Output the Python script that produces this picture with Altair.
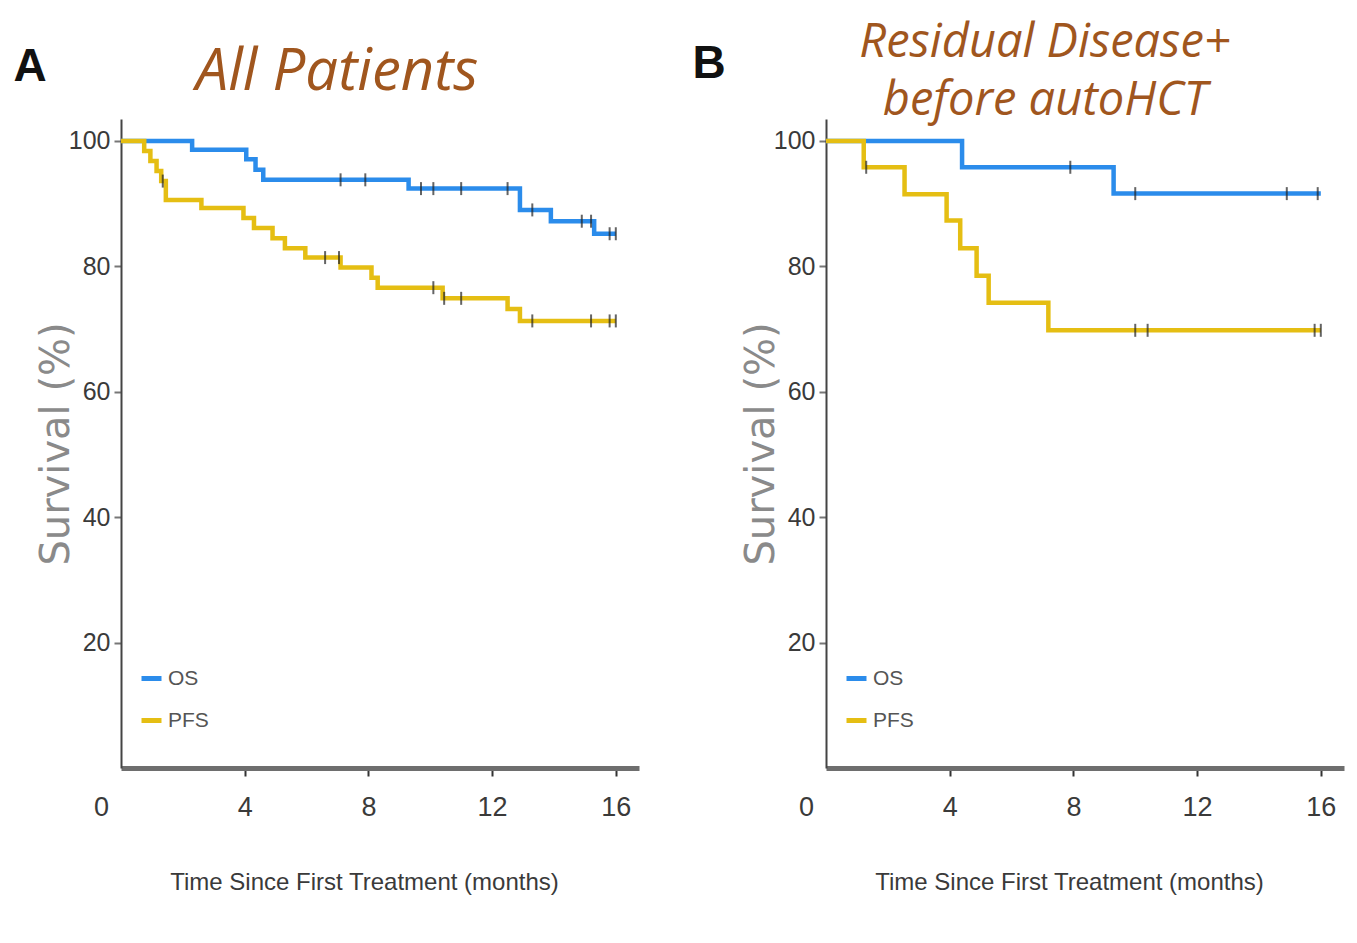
import altair as alt
import pandas as pd

# ---------------- data ----------------
SERIES = ["OS", "PFS"]
COLORS = ["#2B8CEB", "#E5BE13"]

# Panel A : All Patients
A_OS_TIME = [0, 2.3, 4.05, 4.35, 4.6, 9.3, 12.9, 13.9, 15.3, 16.0]
A_OS_SURV = [100, 98.6, 97.1, 95.4, 93.8, 92.4, 89.0, 87.2, 85.2, 85.2]
A_OS_CENSOR = [7.1, 7.9, 9.7, 10.1, 11.0, 12.5, 13.3, 14.9, 15.2, 15.8, 16.0]

A_PFS_TIME = [0, 0.75, 0.95, 1.15, 1.3, 1.45, 2.6, 3.96, 4.3, 4.9, 5.3, 5.96,
              7.1, 8.1, 8.3, 10.4, 12.5, 12.9, 16.0]
A_PFS_SURV = [100, 98.4, 96.8, 95.2, 93.6, 90.6, 89.3, 87.7, 86.1, 84.5, 82.9, 81.4,
              79.8, 78.2, 76.6, 74.9, 73.2, 71.3, 71.3]
A_PFS_CENSOR = [1.35, 6.6, 7.05, 10.1, 10.45, 11.0, 13.3, 15.2, 15.8, 16.0]

# Panel B : Residual Disease+ before autoHCT
B_OS_TIME = [0, 4.4, 9.3, 16.0]
B_OS_SURV = [100, 95.8, 91.6, 91.6]
B_OS_CENSOR = [7.9, 10.0, 14.9, 15.9]

B_PFS_TIME = [0, 1.22, 2.54, 3.9, 4.34, 4.87, 5.26, 7.19, 16.0]
B_PFS_SURV = [100, 95.8, 91.5, 87.3, 82.9, 78.5, 74.2, 69.8, 69.8]
B_PFS_CENSOR = [1.3, 10.0, 10.4, 15.8, 16.0]

X_TICKS = [0, 4, 8, 12, 16]
Y_TICKS = [20, 40, 60, 80, 100]
X_TITLE = "Time Since First Treatment (months)"
Y_TITLE = "Survival (%)"
TITLE_A = ["All Patients"]
TITLE_B = ["Residual Disease+", "before autoHCT"]

# ---------------- styling ----------------
COND = "Liberation Sans"
HAND = "Open Sans"
BROWN = "#A0561E"
W, H = 518, 649


def step_value(times, surv, t):
    v = surv[0]
    for ti, si in zip(times, surv):
        if ti <= t:
            v = si
    return v


def curve_frames(os_t, os_s, os_c, pfs_t, pfs_s, pfs_c):
    rows, cens = [], []
    for name, tt, ss, cc in (("OS", os_t, os_s, os_c), ("PFS", pfs_t, pfs_s, pfs_c)):
        for t, s in zip(tt, ss):
            rows.append({"time": t, "surv": s, "endpoint": name})
        for t in cc:
            cens.append({"time": t, "surv": step_value(tt, ss, t), "endpoint": name})
    return pd.DataFrame(rows), pd.DataFrame(cens)


def panel(os_t, os_s, os_c, pfs_t, pfs_s, pfs_c, letter, letter_pos, titles, title_pos, title_size):
    curves, cens = curve_frames(os_t, os_s, os_c, pfs_t, pfs_s, pfs_c)
    xaxis = alt.Axis(
        values=X_TICKS, title=X_TITLE, grid=False,
        domainColor="#6e6e6e", domainWidth=5,
        tickColor="#333", tickWidth=2, tickSize=8,
        tickOpacity={"expr": "datum.value === 0 ? 0 : 1"},
        labelFont=COND, labelFontSize=27, labelColor="#3a3a3a", labelPadding=18,
        labelOffset={"expr": "datum.value === 0 ? -20 : 0"},
        labelFlush=False, labelOverlap=False, labelBound=False,
        titleFont=COND, titleFontSize=24, titleFontWeight="normal", titleColor="#3a3a3a",
        titleX=243, titleY=114, titleBaseline="middle",
    )
    yaxis = alt.Axis(
        values=Y_TICKS, title=Y_TITLE, grid=False,
        domainColor="#444", domainWidth=2,
        tickColor="#777", tickWidth=2, tickSize=7,
        labelFont=COND, labelFontSize=25, labelColor="#3a3a3a", labelPadding=4,
        labelOverlap=False,
        titleFont="DejaVu Sans", titleFontSize=40, titleFontWeight="normal", titleColor="#8a8a8a",
        titleX=-53, titleBaseline="alphabetic",
    )
    x = alt.X("time:Q", scale=alt.Scale(domain=[0, 16.75], nice=False, zero=False), axis=xaxis)
    y = alt.Y("surv:Q", scale=alt.Scale(domain=[0, 103.5], nice=False), axis=yaxis)
    legend = alt.Legend(
        orient="none", legendX=18, legendY=547, title=None,
        symbolType="stroke", symbolSize=400, symbolStrokeWidth=5,
        labelFont=COND, labelFontSize=21, labelColor="#555",
        rowPadding=19, padding=0, labelOffset=4,
    )
    color = alt.Color("endpoint:N", scale=alt.Scale(domain=SERIES, range=COLORS), legend=legend)

    lines = alt.Chart(curves).mark_line(interpolate="step-after", strokeWidth=4.5).encode(
        x=x, y=y, color=color)
    ticks = alt.Chart(cens).mark_tick(orient="vertical", size=13, thickness=2, color="#222").encode(
        x="time:Q", y="surv:Q")

    layers = [lines, ticks]
    layers.append(
        alt.Chart(pd.DataFrame({"label": [letter]})).mark_text(
            font=COND, fontSize=46, fontWeight="bold", color="#111", baseline="middle", align="center"
        ).encode(x=alt.value(letter_pos[0]), y=alt.value(letter_pos[1]), text="label:N")
    )
    # title block (one text item, lines separated by a line break)
    layers.append(
        alt.Chart(pd.DataFrame({"label": ["\n".join(titles)]})).mark_text(
            font=HAND, fontSize=title_size, fontStyle="italic", color=BROWN,
            baseline="alphabetic", align="center", lineBreak="\n", lineHeight=58
        ).encode(x=alt.value(title_pos[0]), y=alt.value(title_pos[1]), text="label:N")
    )
    return alt.layer(*layers).properties(width=W, height=H)


pA = panel(A_OS_TIME, A_OS_SURV, A_OS_CENSOR, A_PFS_TIME, A_PFS_SURV, A_PFS_CENSOR,
           "A", (-91, -52), TITLE_A, (216, -29), 58)
pB = panel(B_OS_TIME, B_OS_SURV, B_OS_CENSOR, B_PFS_TIME, B_PFS_SURV, B_PFS_CENSOR,
           "B", (-117, -55), TITLE_B, (219, -62), 47)

chart = alt.hconcat(pA, pB, spacing=187, bounds="flush").resolve_scale(
    color="independent"
).configure_view(stroke=None).properties(
    background="white", padding={"top": 11, "left": 5, "right": 5, "bottom": 5}
)

chart.save("out.html", embed_options={"renderer": "svg", "actions": False})
